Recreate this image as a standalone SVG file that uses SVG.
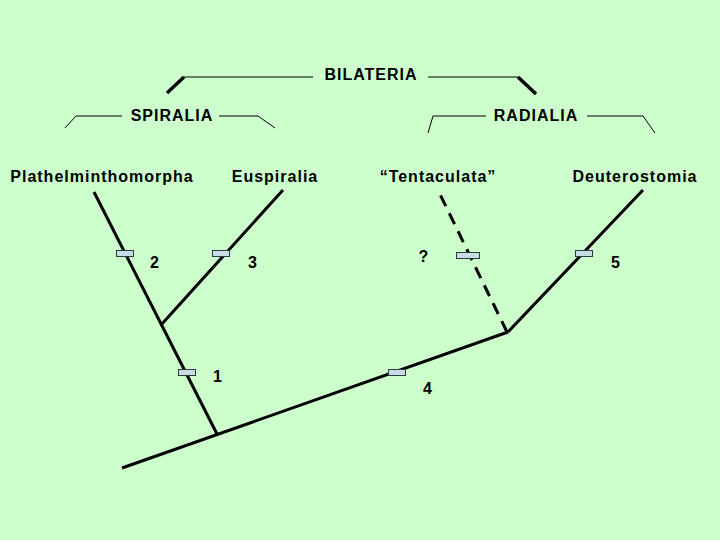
<svg xmlns="http://www.w3.org/2000/svg" width="720" height="540" viewBox="0 0 720 540">
<style>
.t{font-family:"Liberation Sans",Arial,sans-serif;font-weight:bold;font-size:16px;letter-spacing:1px;fill:#000;text-anchor:middle}
.thin{stroke:#000;stroke-width:1;fill:none}
.thick{stroke:#000;stroke-width:3;fill:none;stroke-linecap:butt}
.br{stroke:#000;stroke-width:3.5;fill:none}
.bar{fill:#C8DCE4;stroke:#2a3a40;stroke-width:1}
</style>
<rect width="720" height="540" fill="#CCFFCC"/>
<g id="brackets">
<polyline class="thin" points="184,77 313,77"/>
<line class="br" x1="167" y1="93" x2="184" y2="77"/>
<polyline class="thin" points="428,77 518,77"/>
<line class="br" x1="518" y1="77" x2="536" y2="94"/>
<polyline class="thin" points="65,128 76,116 122,116"/>
<polyline class="thin" points="219,116 258,116 275,128"/>
<polyline class="thin" points="428,133 433,116 486,116"/>
<polyline class="thin" points="587,116 643,116 655,133"/>
</g>
<g id="labels">
<text class="t" x="371" y="80">BILATERIA</text>
<text class="t" x="172" y="121">SPIRALIA</text>
<text class="t" x="536" y="121">RADIALIA</text>
</g>
<g id="connectors">
<line class="thick" x1="122" y1="468" x2="508" y2="332"/>
<line class="thick" x1="217" y1="434" x2="94" y2="192"/>
<line class="thick" x1="161" y1="325" x2="283" y2="190"/>
<line class="thick" x1="508" y1="332" x2="643" y2="190"/>
<line class="thick" x1="507" y1="332" x2="438" y2="190" stroke-dasharray="12 8"/>
</g>
<g id="plathelminthomorpha"><text class="t" x="102" y="182">Plathelminthomorpha</text></g>
<g id="euspiralia"><text class="t" x="275" y="182">Euspiralia</text></g>
<g id="tentaculata"><text class="t" x="438" y="182">“Tentaculata”</text></g>
<g id="deuterostomia"><text class="t" x="635" y="182">Deuterostomia</text></g>
<g id="char1"><rect class="bar" x="178.5" y="369.5" width="17" height="6"/><text class="t" x="218" y="382">1</text></g>
<g id="char2"><rect class="bar" x="116.5" y="250.5" width="17" height="6"/><text class="t" x="155" y="268">2</text></g>
<g id="char3"><rect class="bar" x="212.5" y="250.5" width="17" height="6"/><text class="t" x="253" y="268">3</text></g>
<g id="char4"><rect class="bar" x="388.5" y="369.5" width="17" height="6"/><text class="t" x="428" y="394">4</text></g>
<g id="charq"><rect class="bar" x="456.5" y="252.5" width="23" height="6"/><text class="t" x="424" y="262">?</text></g>
<g id="char5"><rect class="bar" x="575.5" y="250.5" width="17" height="6"/><text class="t" x="616" y="268">5</text></g>
</svg>
